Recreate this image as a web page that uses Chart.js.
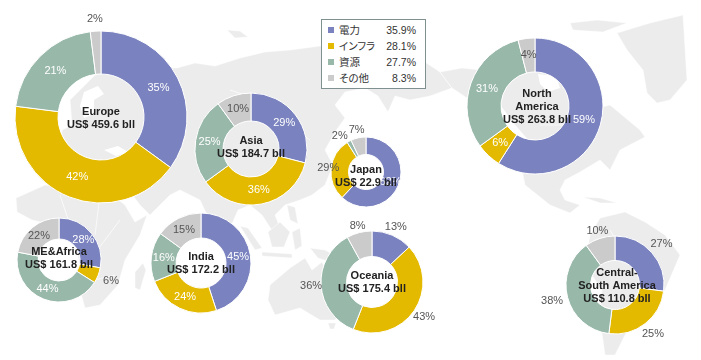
<!DOCTYPE html>
<html lang="ja">
<head>
<meta charset="utf-8">
<title>Regional share</title>
<script src="https://cdn.jsdelivr.net/npm/chart.js@4"></script>
<style>
    html, body { margin: 0; padding: 0; background: #fff; }
    #stage { position: relative; width: 701px; height: 360px; overflow: hidden; filter: blur(0.5px); }
    #map { position: absolute; left: 0; top: 0; }
    #map path { fill: #ececec; stroke: #fff; stroke-width: 0.5; }
    #map path.sea { fill: #fff; stroke: none; }
    #map path.border { fill: none; stroke: #fff; stroke-width: 0.7; }
    #stage canvas { position: absolute; }
    #legend {
        position: absolute; left: 321px; top: 19px; width: 103px; height: 68px;
        border: 1px solid #7f9090; background: #fff;
        font: 10.5px "Liberation Sans", "Noto Sans CJK JP", sans-serif; color: #333;
    }
    #legend .row { position: absolute; left: 0; right: 0; height: 16px; line-height: 16px; }
    #legend .swatch { position: absolute; left: 6px; top: 5px; width: 6px; height: 6px; }
    #legend .name { position: absolute; left: 17px; font-feature-settings: "palt"; }
    #legend .value { position: absolute; right: 9px; }
</style>
</head>
<body>
<div id="stage">
    <svg id="map" width="701" height="360">
        <path d="M45,170 L60,150 L62,130 L72,125 L70,100 L95,75 L120,70 L150,68 L177,68 L195,63 L215,66 L240,58 L265,52 L290,50 L320,46 L350,46 L380,46 L410,52 L425,62 L440,72 L452,88 L430,96 L410,100 L395,96 L388,112 L378,96 L365,88 L345,92 L335,105 L345,118 L335,132 L325,150 L333,165 L325,185 L312,195 L300,200 L285,205 L275,215 L285,240 L275,235 L262,215 L250,205 L238,210 L225,240 L215,232 L200,200 L180,190 L170,195 L150,215 L140,205 L125,185 L95,180 L70,178 Z"/>
        <path d="M227,30 L240,31 L248,37 L235,38 Z"/>
        <path d="M16,198 L45,185 L80,190 L110,193 L125,205 L135,222 L147,215 L140,235 L125,260 L118,285 L100,305 L85,308 L80,290 L80,265 L74,240 L58,226 L32,220 L17,212 Z"/>
        <path d="M135,272 L143,263 L146,270 L140,290 L135,288 Z"/>
        <path d="M240,226 L248,228 L262,248 L255,250 Z"/>
        <path d="M268,232 L280,222 L290,232 L284,247 L272,247 Z"/>
        <path d="M292,232 L300,228 L302,246 L295,250 Z"/>
        <path d="M262,252 L292,254 L292,258 L262,256 Z"/>
        <path d="M287,205 L295,207 L298,224 L290,220 Z"/>
        <path d="M310,248 L325,250 L347,262 L330,262 L318,258 Z"/>
        <path d="M270,285 L290,268 L305,258 L312,270 L322,262 L335,290 L345,305 L335,320 L320,320 L300,308 L275,315 L268,300 Z"/>
        <path d="M328,323 L336,323 L334,329 L330,329 Z"/>
        <path d="M440,72 L462,68 L500,72 L530,68 L560,72 L575,60 L590,80 L585,100 L600,95 L590,110 L610,105 L640,130 L645,137 L620,150 L610,170 L600,160 L580,172 L565,180 L560,190 L565,200 L580,205 L570,213 L550,205 L525,185 L520,160 L528,140 L515,125 L500,105 L470,100 L452,88 Z"/>
        <path d="M617,33 L650,23 L683,15 L687,80 L670,100 L657,103 L647,93 L643,70 L627,50 Z"/>
        <path d="M570,23 L597,20 L627,23 L603,32 L573,30 Z"/>
        <path d="M583,197 L600,198 L617,203 L600,203 Z"/>
        <path d="M600,218 L625,212 L645,222 L665,235 L680,255 L665,290 L645,310 L625,335 L615,355 L605,355 L600,320 L602,290 L585,265 L590,235 Z"/>
        <path class="sea" d="M84,92 L98,86 L104,94 L94,100 L94,114 L84,118 L80,106 Z"/>
        <path class="sea" d="M104,150 L118,146 L128,152 L116,156 Z"/>
        <path class="sea" d="M538,74 L556,76 L560,88 L548,92 L540,84 Z"/>
        <path class="border" d="M60,195 L70,225 M100,195 L95,235 M120,220 L90,260 M95,280 L115,275 M230,90 L290,110 M270,110 L310,140 M540,125 L600,125 M610,230 L640,280 M600,255 L650,255"/>
    </svg>
    <div id="legend"></div>
</div>

<script>
// 凡例
const categories = ['電力', 'インフラ', '資源', 'その他'];
const legendValues = ['35.9%', '28.1%', '27.7%', '8.3%'];

// 地域ごとの割合 (%)
const europe = [35, 42, 21, 2];
const asia = [29, 36, 25, 10];
const japan = [62, 29, 2, 7];
const northAmerica = [59, 6, 31, 4];
const meAfrica = [28, 6, 44, 22];
const india = [45, 24, 16, 15];
const oceania = [13, 43, 36, 8];
const southAmerica = [27, 25, 38, 10];

const colors = ['#7a82bf', '#e3ba00', '#98b8aa', '#cbcbcb'];

// outside: 円の外に出すラベル (index -> 外周からの距離)
const donuts = [
    { values: europe, title: ['Europe', 'US$ 459.6 bll'], x: 101, y: 117, r: 86, textY: 1.5, outside: { 3: 12 } },
    { values: asia, title: ['Asia', 'US$ 184.7 bll'], x: 251, y: 149, r: 56, textY: -1.5, outside: {} },
    { values: japan, title: ['Japan', 'US$ 22.9 bll'], x: 366, y: 172, r: 35, textY: 4, outside: { 1: 3, 2: 9, 3: 8 }, shift: { 2: [-5, 3] } },
    { values: northAmerica, title: ['North', 'America', 'US$ 263.8 bll'], x: 535, y: 106, r: 68, textY: 1, textX: 2, outside: {} },
    { values: meAfrica, title: ['ME&Africa', 'US$ 161.8 bll'], x: 59, y: 260, r: 42, textY: -1.5, outside: { 1: 14 } },
    { values: india, title: ['India', 'US$ 172.2 bll'], x: 201, y: 263, r: 50, textY: 0, outside: {} },
    { values: oceania, title: ['Oceania', 'US$ 175.4 bll'], x: 372, y: 282, r: 51, textY: 0, outside: { 0: 9, 1: 12, 2: 10, 3: 7 } },
    { values: southAmerica, title: ['Central-', 'South America', 'US$ 110.8 bll'], x: 615, y: 285, r: 49, textY: 1, textX: 2, outside: { 0: 13, 1: 13, 2: 16, 3: 8 } }
];

// 凡例を組み立てる
const legend = document.getElementById('legend');
categories.forEach((name, i) => {
    const row = document.createElement('div');
    row.className = 'row';
    row.style.top = (2 + i * 16) + 'px';
    row.innerHTML = '<span class="swatch" style="background:' + colors[i] + '"></span>' +
        '<span class="name">' + name + '</span><span class="value">' + legendValues[i] + '</span>';
    legend.appendChild(row);
});

// % ラベルと中央のテキスト
const donutText = {
    id: 'donutText',
    afterDraw(chart, args, opts) {
        const c = chart.ctx;
        const d = opts.donut;
        c.save();
        c.textAlign = 'center';
        c.textBaseline = 'middle';

        c.font = '11px "Liberation Sans", sans-serif';
        chart.getDatasetMeta(0).data.forEach((arc, i) => {
            const p = arc.getProps(['x', 'y', 'startAngle', 'endAngle', 'innerRadius', 'outerRadius']);
            const mid = (p.startAngle + p.endAngle) / 2;
            const isOut = d.outside[i] !== undefined;
            const dist = isOut ? p.outerRadius + d.outside[i] : (p.innerRadius + p.outerRadius) / 2;
            const shift = (d.shift && d.shift[i]) || [0, 0];
            // 灰色の扇形と外側のラベルは濃い色、それ以外は白
            c.fillStyle = (isOut || i === 3) ? '#555' : '#fff';
            c.fillText(d.values[i] + '%', p.x + Math.cos(mid) * dist + shift[0], p.y + Math.sin(mid) * dist + shift[1]);
        });

        c.font = 'bold 11px "Liberation Sans", sans-serif';
        c.fillStyle = '#222';
        const top = chart.height / 2 + d.textY - (d.title.length - 1) * 6.5;
        d.title.forEach((line, i) => {
            c.fillText(line, chart.width / 2 + (d.textX || 0), top + i * 13);
        });
        c.restore();
    }
};

const stage = document.getElementById('stage');
const pad = 30;
donuts.forEach(d => {
    const canvas = document.createElement('canvas');
    const size = (d.r + pad) * 2;
    canvas.width = size;
    canvas.height = size;
    canvas.style.left = (d.x - d.r - pad) + 'px';
    canvas.style.top = (d.y - d.r - pad) + 'px';
    stage.appendChild(canvas);

    new Chart(canvas.getContext('2d'), {
        type: 'doughnut',
        data: {
            labels: categories,
            datasets: [{
                data: d.values,
                backgroundColor: colors,
                borderColor: '#fff',
                borderWidth: 1
            }]
        },
        options: {
            responsive: false,
            animation: false,
            radius: d.r,
            cutout: '50%',
            plugins: {
                legend: { display: false },
                tooltip: { enabled: false },
                donutText: { donut: d }
            }
        },
        plugins: [donutText]
    });
});
</script>
</body>
</html>
